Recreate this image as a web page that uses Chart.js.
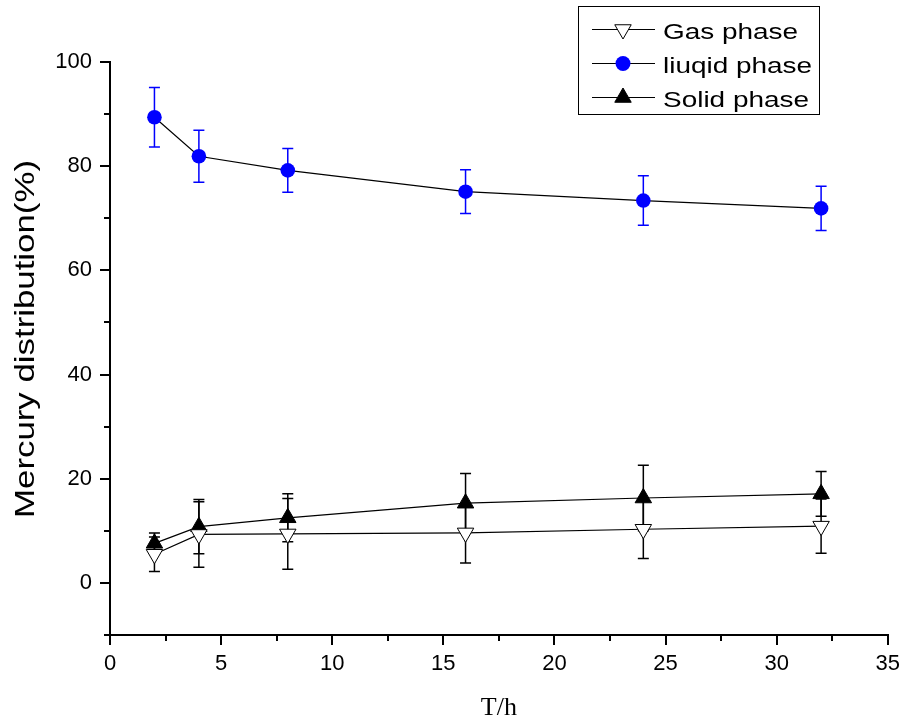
<!DOCTYPE html>
<html><head><meta charset="utf-8">
<script src="https://cdn.jsdelivr.net/npm/chart.js@4.4.1/dist/chart.umd.min.js"></script>
<style>html,body{margin:0;padding:0;background:#fff}canvas{display:block}</style>
</head><body>
<canvas id="c" width="906" height="721"></canvas>
<script>
// ---- data ----
const times = [2, 4, 8, 16, 24, 32];
const gasPhase = [5.5, 9.3, 9.4, 9.6, 10.3, 10.9];
const gasErr = [3.3, 6.3, 6.8, 5.8, 5.6, 5.2];
const liquidPhase = [89.4, 81.9, 79.2, 75.1, 73.4, 71.9];
const liquidErr = [5.7, 5.0, 4.2, 4.2, 4.75, 4.25];
const solidPhase = [7.6, 10.8, 12.5, 15.3, 16.3, 17.1];
const solidErr = [2.0, 5.2, 4.6, 5.7, 6.3, 4.3];
const seriesNames = ['Gas phase', 'liuqid phase', 'Solid phase'];
const xMajorTicks = [0, 5, 10, 15, 20, 25, 30, 35];
const xMinorTicks = [2.5, 7.5, 12.5, 17.5, 22.5, 27.5, 32.5];
const yMajorTicks = [0, 20, 40, 60, 80, 100];
const yMinorTicks = [-10, 10, 30, 50, 70, 90];
const xTitle = 'T/h';
const yTitle = 'Mercury distribution(%)';

const SANS = "'Liberation Sans', Arial, sans-serif";
const SERIF = "'Liberation Serif', 'Times New Roman', serif";
const BLUE = '#0000ff';

function pts(vals) { return times.map((t, i) => ({ x: t, y: vals[i] })); }

function drawTri(ctx, x, y, r, down, fill, stroke) {
  ctx.beginPath();
  let a = down ? Math.PI : 0;
  for (let k = 0; k < 3; k++) {
    const px = x + Math.sin(a) * r, py = y - Math.cos(a) * r;
    if (k === 0) ctx.moveTo(px, py); else ctx.lineTo(px, py);
    a += 2 * Math.PI / 3;
  }
  ctx.closePath();
  ctx.fillStyle = fill; ctx.fill();
  ctx.lineWidth = 1; ctx.strokeStyle = stroke; ctx.stroke();
}

const errorBars = {
  id: 'errorBars',
  beforeDatasetsDraw(chart) {
    const ctx = chart.ctx, xs = chart.scales.x, ys = chart.scales.y;
    chart.data.datasets.forEach(ds => {
      ctx.save();
      ctx.strokeStyle = ds.errColor;
      ctx.lineWidth = 1.5;
      ds.data.forEach((p, i) => {
        const e = ds.errors[i];
        const px = xs.getPixelForValue(p.x);
        const top = ys.getPixelForValue(p.y + e), bot = ys.getPixelForValue(p.y - e);
        ctx.beginPath();
        ctx.moveTo(px, top); ctx.lineTo(px, bot);
        ctx.moveTo(px - 5.5, top); ctx.lineTo(px + 5.5, top);
        ctx.moveTo(px - 5.5, bot); ctx.lineTo(px + 5.5, bot);
        ctx.stroke();
      });
      ctx.restore();
    });
  }
};

const decorations = {
  id: 'decorations',
  afterDraw(chart) {
    const ctx = chart.ctx, xs = chart.scales.x, ys = chart.scales.y;
    const ca = chart.chartArea;
    ctx.save();
    // minor ticks
    ctx.strokeStyle = '#000'; ctx.lineWidth = 2;
    ctx.beginPath();
    xMinorTicks.forEach(v => {
      const px = Math.round(xs.getPixelForValue(v));
      ctx.moveTo(px, ca.bottom); ctx.lineTo(px, ca.bottom + 6);
    });
    yMinorTicks.forEach(v => {
      const py = Math.round(ys.getPixelForValue(v));
      ctx.moveTo(ca.left, py); ctx.lineTo(ca.left - 6, py);
    });
    ctx.stroke();

    // x title
    ctx.fillStyle = '#000';
    ctx.font = '26px ' + SERIF;
    ctx.textAlign = 'center'; ctx.textBaseline = 'alphabetic';
    ctx.fillText(xTitle, (ca.left + ca.right) / 2, 715);

    // y title (stretched as in the reference)
    ctx.save();
    ctx.translate(33.5, 339);
    ctx.rotate(-Math.PI / 2);
    ctx.font = '28px ' + SANS;
    const w = ctx.measureText(yTitle).width;
    ctx.scale(358 / w, 1);
    ctx.textAlign = 'center';
    ctx.fillText(yTitle, 0, 0);
    ctx.restore();

    // legend
    ctx.lineWidth = 1; ctx.strokeStyle = '#000';
    ctx.strokeRect(578.5, 6.5, 241, 108);
    const rowsY = [29.5, 63.5, 97.5];
    rowsY.forEach((ly, i) => {
      ctx.beginPath();
      ctx.lineWidth = 1.2; ctx.strokeStyle = '#000';
      ctx.moveTo(592, ly); ctx.lineTo(655, ly); ctx.stroke();
      if (i === 0) drawTri(ctx, 623, ly, 9.5, true, '#fff', '#000');
      else if (i === 1) {
        ctx.beginPath(); ctx.arc(623, ly, 7.5, 0, Math.PI * 2);
        ctx.fillStyle = BLUE; ctx.fill();
      } else drawTri(ctx, 623, ly, 9.5, false, '#000', '#000');
      ctx.save();
      ctx.translate(663, ly + 9.5);
      ctx.scale(1.27, 1);
      ctx.font = '22px ' + SANS;
      ctx.fillStyle = '#000';
      ctx.textAlign = 'left';
      ctx.fillText(seriesNames[i], 0, 0);
      ctx.restore();
    });
    ctx.restore();
  }
};

const axisCommon = {
  type: 'linear',
  grid: { drawOnChartArea: false, drawTicks: true, tickLength: 10, color: '#000', lineWidth: 2, tickColor: '#000', tickWidth: 2 },
  border: { display: true, color: '#000', width: 2 },
  title: { display: false }
};

new Chart(document.getElementById('c'), {
  type: 'line',
  data: {
    datasets: [
      {
        label: seriesNames[0], data: pts(gasPhase), errors: gasErr, errColor: '#000',
        borderColor: '#000', borderWidth: 1.2, pointStyle: 'triangle', pointRotation: 180,
        pointRadius: 9.5, pointBackgroundColor: '#fff', pointBorderColor: '#000', pointBorderWidth: 1
      },
      {
        label: seriesNames[1], data: pts(liquidPhase), errors: liquidErr, errColor: BLUE,
        borderColor: '#000', borderWidth: 1.2, pointStyle: 'circle',
        pointRadius: 7.3, pointBackgroundColor: BLUE, pointBorderColor: BLUE, pointBorderWidth: 0
      },
      {
        label: seriesNames[2], data: pts(solidPhase), errors: solidErr, errColor: '#000',
        borderColor: '#000', borderWidth: 1.2, pointStyle: 'triangle',
        pointRadius: 9.5, pointBackgroundColor: '#000', pointBorderColor: '#000', pointBorderWidth: 1
      }
    ]
  },
  options: {
    responsive: false,
    animation: false,
    devicePixelRatio: 1,
    layout: { padding: { left: 0, top: 62, right: 18, bottom: 0 } },
    plugins: { legend: { display: false }, tooltip: { enabled: false } },
    scales: {
      x: Object.assign({}, axisCommon, {
        min: 0, max: 35,
        afterBuildTicks: s => { s.ticks = xMajorTicks.map(v => ({ value: v })); },
        afterFit: s => { s.height = 86; },
        ticks: { color: '#000', font: { family: SANS, size: 22 }, padding: 6, maxRotation: 0, autoSkip: false }
      }),
      y: Object.assign({}, axisCommon, {
        min: -10, max: 100,
        afterBuildTicks: s => { s.ticks = yMajorTicks.map(v => ({ value: v })); },
        afterFit: s => { s.width = 110; },
        ticks: { color: '#000', font: { family: SANS, size: 22 }, padding: 8, autoSkip: false }
      })
    }
  },
  plugins: [errorBars, decorations]
});
</script>
</body></html>
